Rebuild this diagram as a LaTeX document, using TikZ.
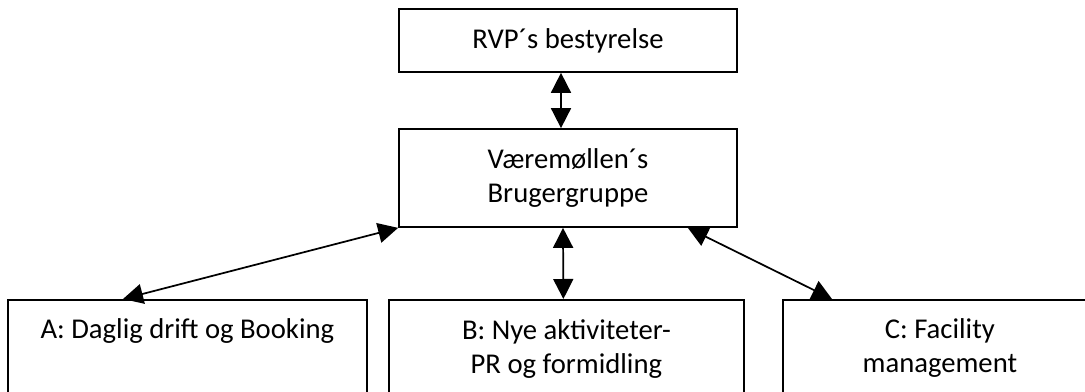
\documentclass[tikz,border=0pt]{standalone}
\usepackage{fontspec}
\setmainfont{Carlito}
\usepackage{tikz}
\usetikzlibrary{arrows.meta,calc,positioning}

\tikzset{
  box/.style={draw, line width=1.3pt, rectangle, inner sep=0pt},
  lbl/.style={align=center, inner sep=0pt, font=\fontsize{21.5}{25.5}\selectfont},
  link/.style={line width=1.3pt, {Triangle[length=15pt,width=15pt]}-{Triangle[length=15pt,width=15pt]}}
}

\begin{document}
\begin{tikzpicture}[x=0.75pt,y=0.75pt,yscale=-1]
\clip (0,0) rectangle (1085,392);

% top boxes
\node[box, lbl, minimum width=253.5pt, minimum height=47.25pt] (rvp) at (568,40.5) {RVP´s bestyrelse};
\node[box, lbl, minimum width=253.5pt, minimum height=73.5pt] (brug) at (568,178) {Væremøllen´s\\Brugergruppe};

% bottom boxes (cut by the page edge)
\node[box, minimum width=269.25pt, minimum height=105pt, anchor=north west] (A) at (7,299) {};
\node[box, minimum width=266.25pt, minimum height=105pt, anchor=north west] (B) at (388,299) {};
\node[box, minimum width=235.5pt, minimum height=105pt, anchor=north west] (C) at (782,299) {};

% Text Node
\node[lbl, anchor=base] (Atxt) at ($(A.north)+(0,39)$) {A: Daglig drift og Booking};
% Text Node
\node[lbl, anchor=base] (Btxt) at ($(B.north)+(0,74)$) {B: Nye aktiviteter-\\PR og formidling};
% Text Node
\node[lbl, anchor=base] (Ctxt) at ($(C.north)+(0,73)$) {C: Facility\\management};

% connectors
\draw[link] ($(rvp.south)+(-7,0)$) -- ($(brug.north)+(-7,0)$);
\draw[link] ($(brug.south)+(-5,0)$) -- ($(B.north)+(-3,0)$);
\draw[link] (brug.south west) -- ($(A.north west)+(116,0)$);
\draw[link] ($(brug.south east)+(-50,0)$) -- ($(C.north west)+(50,0)$);

\end{tikzpicture}
\end{document}
